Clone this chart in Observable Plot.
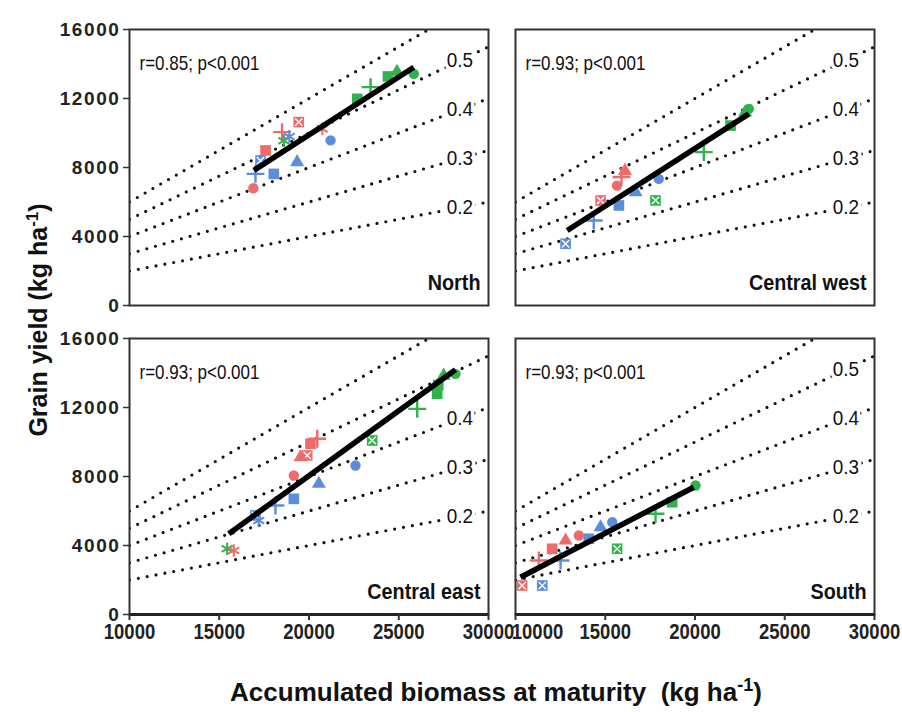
<!DOCTYPE html>
<html><head><meta charset="utf-8">
<script src="https://cdn.jsdelivr.net/npm/d3@7"></script>
<script src="https://cdn.jsdelivr.net/npm/@observablehq/plot@0.6"></script>
<style>
html,body{margin:0;padding:0;background:#fff;}
#chart{width:902px;height:712px;position:relative;overflow:hidden;}
#chart svg [aria-label="y-axis tick label"] text{letter-spacing:1.6px;}
</style></head>
<body><div id="chart"></div>
<script>
// ---------- data ----------
const regions = ["North", "Central west", "Central east", "South"];
const rValues = [0.85, 0.93, 0.93, 0.93];
const pValue = "0.001";
const groups = ["A", "B", "C"];            // red, blue, green series
const markers = ["circle", "square", "triangle", "plus", "asterisk", "boxed"];

// [biomass, grain yield, group, marker]
const northPoints = [
  [16900, 6800, "A", "circle"], [17020, 7630, "B", "plus"], [17300, 8400, "B", "boxed"],
  [17580, 8990, "A", "square"], [18040, 7630, "B", "square"], [18500, 10050, "A", "plus"],
  [18600, 9550, "C", "asterisk"], [18900, 9800, "B", "asterisk"], [19430, 10630, "A", "boxed"],
  [19340, 8310, "B", "triangle"], [20740, 10240, "A", "asterisk"], [21200, 9570, "B", "circle"],
  [22690, 11980, "C", "square"], [23430, 12660, "C", "plus"], [24400, 13280, "C", "square"],
  [24900, 13550, "C", "triangle"], [25840, 13430, "C", "circle"]
];
const centralWestPoints = [
  [12790, 3580, "B", "boxed"], [14360, 4930, "B", "plus"], [14740, 6090, "A", "boxed"],
  [15760, 5800, "B", "square"], [15650, 6950, "A", "circle"], [15900, 7450, "A", "plus"],
  [16100, 7800, "A", "triangle"], [16690, 6570, "B", "triangle"], [17980, 7340, "B", "circle"],
  [17800, 6090, "C", "boxed"], [20490, 8890, "C", "plus"], [21980, 10430, "C", "square"],
  [22800, 11200, "C", "triangle"], [23000, 11400, "C", "circle"]
];
const centralEastPoints = [
  [15440, 3810, "C", "asterisk"], [15810, 3710, "A", "asterisk"], [17020, 5740, "B", "boxed"],
  [17200, 5450, "B", "asterisk"], [18130, 6320, "B", "plus"], [19155, 6705, "B", "square"],
  [19155, 8060, "A", "circle"], [19530, 9120, "A", "triangle"], [19900, 9220, "A", "boxed"],
  [20080, 9900, "A", "square"], [20460, 10190, "A", "plus"], [20550, 7580, "B", "triangle"],
  [22590, 8640, "B", "circle"], [23520, 10090, "C", "boxed"], [26030, 11920, "C", "plus"],
  [27140, 12800, "C", "square"], [27200, 13300, "C", "square"], [27500, 13850, "C", "triangle"],
  [28160, 13950, "C", "circle"]
];
const southPoints = [
  [10370, 1680, "A", "boxed"], [11490, 1680, "B", "boxed"], [11300, 3130, "A", "plus"],
  [12510, 3130, "B", "plus"], [12040, 3810, "A", "square"], [12790, 4290, "A", "triangle"],
  [13530, 4580, "A", "circle"], [14080, 4390, "B", "square"], [14740, 5060, "B", "triangle"],
  [15390, 5350, "B", "circle"], [15660, 3810, "C", "boxed"], [17800, 5840, "C", "plus"],
  [18730, 6510, "C", "square"], [20030, 7480, "C", "circle"]
];

// regression line end points per region
const regStartBiomass = [16930, 12880, 15530, 10280];
const regStartYield   = [7830, 4350, 4680, 2160];
const regEndBiomass   = [25840, 23000, 28160, 19930];
const regEndYield     = [13810, 11110, 14190, 7380];

// harvest index reference lines
const hiValues = [0.2, 0.3, 0.4, 0.5, 0.6];
const hiLabelSets = [[0.2, 0.3, 0.4, 0.5], [0.2, 0.3, 0.4, 0.5], [0.2, 0.3, 0.4], [0.2, 0.3, 0.4, 0.5]];
const hiLabelBiomass = 28400;

// axes
const xDomain = [10000, 30000];
const yDomain = [0, 16000];
const xTicks = [10000, 15000, 20000, 25000, 30000];
const yTicks = [0, 4000, 8000, 12000, 16000];
const groupColors = ["#ef6b6b", "#5c8ddd", "#2fb34b"];

// ---------- tables ----------
const SANS = "'Liberation Sans', Arial, sans-serif";
const panels = regions.map((name, i) => ({name, r: rValues[i], col: i % 2 ? "R" : "L", row: i < 2 ? "T" : "B"}));
const pointSets = [northPoints, centralWestPoints, centralEastPoints, southPoints];
const points = pointSets.flatMap((set, i) => set.map(([biomass, grain, group, marker]) =>
  ({biomass, grain, group, marker, col: panels[i].col, row: panels[i].row})));
const regressions = panels.map((p, i) => ({...p, x1: regStartBiomass[i], y1: regStartYield[i], x2: regEndBiomass[i], y2: regEndYield[i]}));
const hiLines = panels.flatMap(p => hiValues.flatMap(hi => xDomain.map(x => ({hi, x, y: hi * x, col: p.col, row: p.row}))));
const hiLabels = panels.flatMap((p, i) => hiLabelSets[i].map(hi => ({hi, x: hiLabelBiomass, y: hi * hiLabelBiomass, col: p.col, row: p.row})));
const bottomPanels = panels.filter(p => p.row === "B");
const xLabels = bottomPanels.flatMap(p => xTicks.map((v, j) => ({v, col: p.col, row: p.row, nudge: p.col === "R" && j === 0})));

// font sizes (each distinct so that the label groups can be condensed afterwards)
const FS_HI = 21, FS_R = 20, FS_REGION = 22, FS_XTICK = 21.5;
const condenseBySize = {[FS_HI]: 0.9, [FS_R]: 0.85, [FS_REGION]: 0.9, [FS_XTICK]: 0.86};

const F = {fx: "col", fy: "row"};
const byMarker = m => points.filter(d => d.marker === m);
const XY = {x: "biomass", y: "grain", ...F};
const tickText = {x: "v", text: d => String(d.v), ...F, frameAnchor: "bottom", dy: 18, lineAnchor: "middle", fontSize: FS_XTICK, fontWeight: "bold", fontFamily: SANS, fill: "#222"};

const chart = Plot.plot({
  width: 902, height: 712,
  marginLeft: 129, marginRight: 28, marginTop: 29, marginBottom: 98,
  x: {domain: xDomain},
  y: {domain: yDomain},
  fx: {domain: ["L", "R"], axis: null, paddingInner: 27 / 386, paddingOuter: 0, round: false},
  fy: {domain: ["T", "B"], axis: null, paddingInner: 33 / 309, paddingOuter: 0, round: false},
  color: {domain: groups, range: groupColors},
  marks: [
    Plot.line(hiLines, {x: "x", y: "y", z: "hi", ...F, clip: true, stroke: "#111", strokeWidth: 3.2, strokeDasharray: "0 9", strokeLinecap: "round"}),
    Plot.text(hiLabels, {x: "x", y: "y", text: d => String(d.hi), ...F, fill: "#111", stroke: "white", strokeWidth: 8, fontSize: FS_HI, fontFamily: SANS}),
    Plot.dot(byMarker("circle"), {...XY, fill: "group", symbol: "circle", r: 5.2}),
    Plot.dot(byMarker("square"), {...XY, fill: "group", symbol: "square", r: 6}),
    Plot.dot(byMarker("boxed"), {...XY, fill: "group", symbol: "square", r: 6}),
    Plot.dot(byMarker("boxed"), {...XY, stroke: "white", symbol: "times", r: 3.4, strokeWidth: 1.4}),
    Plot.dot(byMarker("triangle"), {...XY, fill: "group", symbol: "triangle", r: 5.2}),
    Plot.dot(byMarker("plus"), {...XY, stroke: "group", symbol: "plus", r: 5.8, strokeWidth: 2.4}),
    Plot.dot(byMarker("asterisk"), {...XY, stroke: "group", symbol: "asterisk", r: 6, strokeWidth: 2}),
    Plot.link(regressions, {x1: "x1", y1: "y1", x2: "x2", y2: "y2", ...F, stroke: "#000", strokeWidth: 5.5}),
    Plot.text(panels, {...F, text: d => `r=${d.r.toFixed(2)}; p<${pValue}`, frameAnchor: "top-left", dx: 10, dy: 34, lineAnchor: "middle", fontSize: FS_R, fontFamily: SANS, fill: "#111"}),
    Plot.text(panels, {...F, text: "name", frameAnchor: "bottom-right", dx: -8, dy: -23, lineAnchor: "middle", fontSize: FS_REGION, fontWeight: "bold", fontFamily: SANS, fill: "#111"}),
    Plot.frame({stroke: "#333", strokeWidth: 2}),
    Plot.ruleY(bottomPanels, {y: () => yDomain[0], ...F, stroke: "#222", strokeWidth: 3}),
    Plot.axisY({ticks: yTicks, tickFormat: d => String(d), facetAnchor: "left", tickSize: 6, tickPadding: 3, label: null, fontSize: 19, fontWeight: "bold", fontFamily: SANS, stroke: "#333", strokeWidth: 1.5, fill: "#222"}),
    Plot.axisX({ticks: xTicks, tickFormat: () => "", facetAnchor: "bottom", tickSize: 6, label: null, stroke: "#333", strokeWidth: 2}),
    Plot.text(xLabels.filter(d => !d.nudge), tickText),
    Plot.text(xLabels.filter(d => d.nudge), {...tickText, dx: 22})
  ]
});

// horizontally condense label groups to mimic a narrow typeface
d3.select(chart).selectAll("g[font-size]").each(function () {
  const k = condenseBySize[this.getAttribute("font-size")];
  if (!k) return;
  d3.select(this).selectAll("text").each(function () {
    const t = this.getAttribute("transform") || "";
    const xa = this.getAttribute("x");
    let x = 0;
    if (xa !== null && isFinite(+xa)) { x = +xa; this.removeAttribute("x"); }
    this.setAttribute("transform", `${t} translate(${x},0) scale(${k},1)`);
  });
});

const svg = d3.select(chart);
const xt = svg.append("text").attr("x", 496).attr("y", 701).attr("text-anchor", "middle")
  .attr("font-family", SANS).attr("font-weight", "bold").attr("font-size", 26).attr("fill", "#111").style("white-space", "pre");
xt.append("tspan").text("Accumulated biomass at maturity  (kg ha");
xt.append("tspan").attr("dy", -10).attr("font-size", 18).text("-1");
xt.append("tspan").attr("dy", 10).text(")");

const yt = svg.append("text").attr("transform", "translate(47,320) rotate(-90)").attr("text-anchor", "middle")
  .attr("font-family", SANS).attr("font-weight", "bold").attr("font-size", 25).attr("fill", "#111");
yt.append("tspan").text("Grain yield (kg ha");
yt.append("tspan").attr("dy", -9).attr("font-size", 17).text("-1");
yt.append("tspan").attr("dy", 9).text(")");

document.getElementById("chart").appendChild(chart);
</script></body></html>
